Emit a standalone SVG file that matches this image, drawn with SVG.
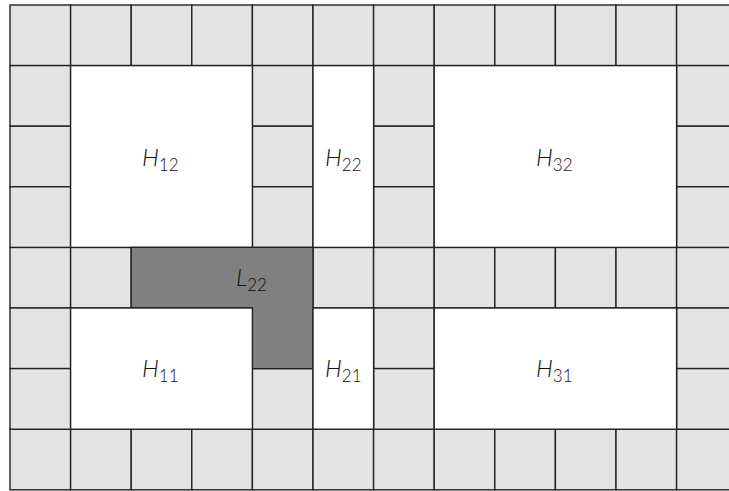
<svg xmlns="http://www.w3.org/2000/svg" width="729" height="491" viewBox="0 0 729 491">
<style>
.c{fill:#e3e3e3;stroke:#222;stroke-width:1.4}
.w{fill:#fff;stroke:#222;stroke-width:1.4}
.d{fill:#808080;stroke:#222;stroke-width:1.4}
.t{font-family:"Lato","Open Sans","DejaVu Sans",sans-serif;font-weight:300;font-style:italic;font-size:24px;fill:#111}
.s{font-style:normal;font-size:17px}
</style>
<rect x="0" y="0" width="729" height="491" fill="#fff"/>
<defs>
<rect id="cell" width="60.6" height="60.6" class="c"/>
</defs>
<g id="border-cells">
<use href="#cell" x="10" y="5"/><use href="#cell" x="70.6" y="5"/><use href="#cell" x="131.2" y="5"/><use href="#cell" x="191.8" y="5"/><use href="#cell" x="252.4" y="5"/><use href="#cell" x="313" y="5"/><use href="#cell" x="373.6" y="5"/><use href="#cell" x="434.2" y="5"/><use href="#cell" x="494.8" y="5"/><use href="#cell" x="555.4" y="5"/><use href="#cell" x="616" y="5"/><use href="#cell" x="676.6" y="5"/>
<use href="#cell" x="10" y="429.2"/><use href="#cell" x="70.6" y="429.2"/><use href="#cell" x="131.2" y="429.2"/><use href="#cell" x="191.8" y="429.2"/><use href="#cell" x="252.4" y="429.2"/><use href="#cell" x="313" y="429.2"/><use href="#cell" x="373.6" y="429.2"/><use href="#cell" x="434.2" y="429.2"/><use href="#cell" x="494.8" y="429.2"/><use href="#cell" x="555.4" y="429.2"/><use href="#cell" x="616" y="429.2"/><use href="#cell" x="676.6" y="429.2"/>
<use href="#cell" x="10" y="247.4"/><use href="#cell" x="70.6" y="247.4"/><use href="#cell" x="313" y="247.4"/><use href="#cell" x="373.6" y="247.4"/><use href="#cell" x="434.2" y="247.4"/><use href="#cell" x="494.8" y="247.4"/><use href="#cell" x="555.4" y="247.4"/><use href="#cell" x="616" y="247.4"/><use href="#cell" x="676.6" y="247.4"/>
<use href="#cell" x="10" y="65.6"/><use href="#cell" x="10" y="126.2"/><use href="#cell" x="10" y="186.8"/><use href="#cell" x="10" y="308"/><use href="#cell" x="10" y="368.6"/>
<use href="#cell" x="252.4" y="65.6"/><use href="#cell" x="252.4" y="126.2"/><use href="#cell" x="252.4" y="186.8"/><use href="#cell" x="252.4" y="368.6"/>
<use href="#cell" x="373.6" y="65.6"/><use href="#cell" x="373.6" y="126.2"/><use href="#cell" x="373.6" y="186.8"/><use href="#cell" x="373.6" y="308"/><use href="#cell" x="373.6" y="368.6"/>
<use href="#cell" x="676.6" y="65.6"/><use href="#cell" x="676.6" y="126.2"/><use href="#cell" x="676.6" y="186.8"/><use href="#cell" x="676.6" y="308"/><use href="#cell" x="676.6" y="368.6"/>
</g>
<g id="H12"><rect class="w" x="70.6" y="65.6" width="181.8" height="181.8"/><text class="t" x="142" y="166">H<tspan class="s" dy="5">12</tspan></text></g>
<g id="H22"><rect class="w" x="313" y="65.6" width="60.6" height="181.8"/><text class="t" x="325" y="166">H<tspan class="s" dy="5">22</tspan></text></g>
<g id="H32"><rect class="w" x="434.2" y="65.6" width="242.4" height="181.8"/><text class="t" x="536" y="166">H<tspan class="s" dy="5">32</tspan></text></g>
<g id="L22"><path class="d" d="M131.2 247.4H313V368.6H252.4V308H131.2Z"/><text class="t" x="236" y="286">L<tspan class="s" dy="5">22</tspan></text></g>
<g id="H11"><rect class="w" x="70.6" y="308" width="181.8" height="121.2"/><text class="t" x="142" y="377">H<tspan class="s" dy="5">11</tspan></text></g>
<g id="H21"><rect class="w" x="313" y="308" width="60.6" height="121.2"/><text class="t" x="325" y="377">H<tspan class="s" dy="5">21</tspan></text></g>
<g id="H31"><rect class="w" x="434.2" y="308" width="242.4" height="121.2"/><text class="t" x="536" y="377">H<tspan class="s" dy="5">31</tspan></text></g>
</svg>
